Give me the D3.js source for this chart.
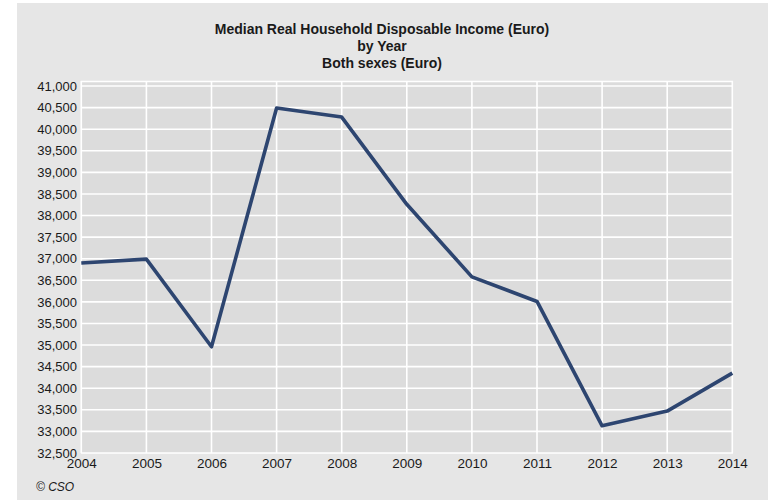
<!DOCTYPE html>
<html>
<head>
<meta charset="utf-8">
<script src="https://cdn.jsdelivr.net/npm/d3@7"></script>
<style>
html,body{margin:0;padding:0;background:#fff;}
svg{display:block;}
text{font-family:"Liberation Sans",Arial,sans-serif;fill:#1a1a1a;}
</style>
</head>
<body>
<svg id="chart" width="769" height="501"></svg>
<script>
const years = [2004, 2005, 2006, 2007, 2008, 2009, 2010, 2011, 2012, 2013, 2014];
const income = [36900, 36990, 34960, 40490, 40280, 38260, 36580, 36010, 33130, 33470, 34350];
const yTicks = [32500, 33000, 33500, 34000, 34500, 35000, 35500, 36000, 36500, 37000, 37500, 38000, 38500, 39000, 39500, 40000, 40500, 41000];
const titleLines = ["Median Real Household Disposable Income (Euro)", "by Year", "Both sexes (Euro)"];
const credit = "\u00A9 CSO";

const svg = d3.select("#chart");
svg.append("rect").attr("x", 17).attr("y", 3).attr("width", 751).attr("height", 497).attr("fill", "#e6e6e6");

const x = d3.scaleLinear().domain([2004, 2014]).range([81.3, 732.3]);
const y = d3.scaleLinear().domain([32500, 41000]).range([453, 86]);

// plot background
svg.append("rect").attr("x", 81).attr("y", 81).attr("width", 652).attr("height", 372).attr("fill", "#dcdcdc");
svg.append("line").attr("x1", 81).attr("x2", 733).attr("y1", 81.5).attr("y2", 81.5).attr("stroke", "#fff").attr("stroke-width", 1.5);

// grid
svg.append("g").selectAll("line").data(yTicks).join("line")
  .attr("x1", 81).attr("x2", 733)
  .attr("y1", d => y(d)).attr("y2", d => y(d))
  .attr("stroke", "#fff").attr("stroke-width", 1.6);
svg.append("g").selectAll("line").data(years).join("line")
  .attr("x1", d => x(d)).attr("x2", d => x(d))
  .attr("y1", 81).attr("y2", 453)
  .attr("stroke", "#fff").attr("stroke-width", 1.6);

// axes (labels only)
const fmt = d3.format(",");
const yAxis = d3.axisLeft(y).tickValues(yTicks).tickFormat(fmt).tickSize(0).tickPadding(4);
const gy = svg.append("g").attr("transform", "translate(81,0)").call(yAxis);
gy.select(".domain").remove();
gy.selectAll("text").attr("font-size", 13).attr("font-family", "Liberation Sans, Arial, sans-serif").attr("fill", "#1a1a1a");

const xAxis = d3.axisBottom(x).tickValues(years).tickFormat(d3.format("d")).tickSize(0).tickPadding(5);
const gx = svg.append("g").attr("transform", "translate(0,453)").call(xAxis);
gx.select(".domain").remove();
gx.selectAll("text").attr("font-size", 13.5).attr("font-family", "Liberation Sans, Arial, sans-serif").attr("fill", "#1a1a1a");

// line
const line = d3.line().x((d, i) => x(years[i])).y(d => y(d));
svg.append("path").datum(income).attr("d", line)
  .attr("fill", "none").attr("stroke", "#2d4570").attr("stroke-width", 3.6)
  .attr("stroke-linejoin", "round").attr("stroke-linecap", "butt");

// title
svg.append("g").selectAll("text").data(titleLines).join("text")
  .attr("x", 382).attr("y", (d, i) => 34 + i * 17)
  .attr("text-anchor", "middle").attr("font-size", 14).attr("font-weight", "bold")
  .text(d => d);

svg.append("text").attr("x", 36).attr("y", 491).attr("font-size", 12).attr("font-style", "italic").text(credit);
</script>
</body>
</html>
